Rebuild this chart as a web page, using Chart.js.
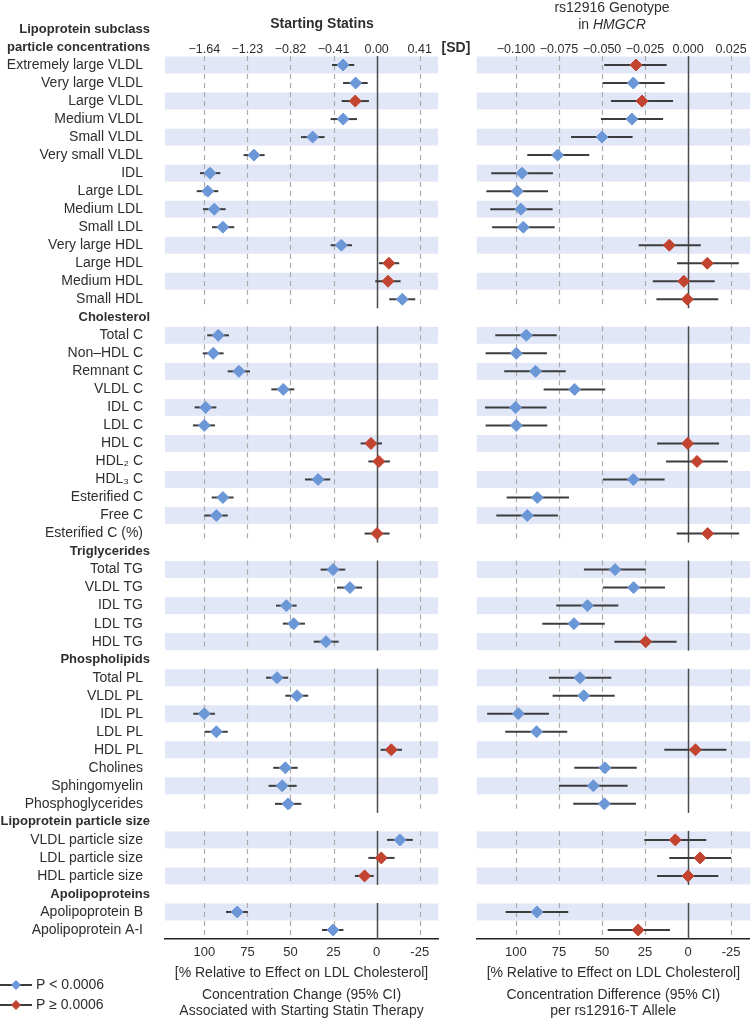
<!DOCTYPE html>
<html lang="en">
<head>
<meta charset="UTF-8">
<title>Statins vs rs12916 in HMGCR</title>
<script src="https://cdn.jsdelivr.net/npm/chart.js"></script>
<style>
  body { margin: 0; background: #fff; }
  .wrap { position: relative; width: 750px; height: 1021px; overflow: hidden; }
  #statinChart { position: absolute; left: 0; top: 0; }
  #geneChart { position: absolute; left: 460px; top: 0; }
</style>
</head>
<body>
<div class="wrap">
  <canvas id="statinChart" width="475" height="1021"></canvas>
  <canvas id="geneChart" width="290" height="1021"></canvas>
</div>
<script>
// ---- data (values in % relative to the effect on LDL cholesterol) ----
const groupNames = ['Lipoprotein subclass\nparticle concentrations', 'Cholesterol', 'Triglycerides',
                    'Phospholipids', 'Lipoprotein particle size', 'Apolipoproteins'];
const subclassLabels = ['Extremely large VLDL', 'Very large VLDL', 'Large VLDL', 'Medium VLDL', 'Small VLDL',
                        'Very small VLDL', 'IDL', 'Large LDL', 'Medium LDL', 'Small LDL', 'Very large HDL',
                        'Large HDL', 'Medium HDL', 'Small HDL'];
const cholesterolLabels = ['Total C', 'Non\u2013HDL C', 'Remnant C', 'VLDL C', 'IDL C', 'LDL C', 'HDL C',
                           'HDL\u2082 C', 'HDL\u2083 C', 'Esterified C', 'Free C', 'Esterified C (%)'];
const triglycerideLabels = ['Total TG', 'VLDL TG', 'IDL TG', 'LDL TG', 'HDL TG'];
const phospholipidLabels = ['Total PL', 'VLDL PL', 'IDL PL', 'LDL PL', 'HDL PL', 'Cholines',
                            'Sphingomyelin', 'Phosphoglycerides'];
const sizeLabels = ['VLDL particle size', 'LDL particle size', 'HDL particle size'];
const apoLabels = ['Apolipoprotein B', 'Apolipoprotein A\u2011I'];

const statinEst = [19.5, 12.2, 12.4, 19.4, 37.1, 71.2, 96.7, 98, 94.2, 89.2, 20.5, -7.1, -6.6, -14.9,
                   91.9, 94.8, 79.9, 54.2, 99.2, 100, 3.3, -1.3, 34, 89.2, 93, -0.2,
                   25.3, 15.5, 52.4, 48.1, 29.4,
                   57.8, 46.2, 100, 93, -8.5, 53, 54.8, 51.4,
                   -13.5, -2.7, 7,
                   80.9, 25.3];
const statinLo = [13, 5.2, 4.5, 11.4, 30.2, 65, 90.7, 91.9, 87.6, 82.6, 14.3, -13.1, -13.9, -22.4,
                  85.7, 88.8, 73.5, 47.8, 93, 93.8, -3.1, -7.7, 26.9, 83, 86.4, -7.5,
                  18.2, 8.4, 46.4, 41.6, 22,
                  51.3, 39.7, 93.8, 86.4, -14.7, 45.8, 46.4, 43.7,
                  -21, -10.4, 1.7,
                  74.7, 19.3];
const statinHi = [25.9, 19.5, 20.3, 26.7, 43.9, 77.2, 102.5, 104.4, 100.8, 95.5, 26.7, -1.3, 0.8, -7.3,
                  98.3, 100.9, 86.4, 61.1, 105.6, 106.6, 9.3, 4.8, 41.6, 95.7, 100, 7,
                  32.5, 23, 58.4, 54.4, 36.5,
                  64.2, 53, 106.4, 99.8, -2.3, 60, 62.7, 59,
                  -6, 4.8, 12.6,
                  87.4, 31.7];
// 1 = P < 0.0006, 0 = P >= 0.0006
const statinSig = [1, 1, 0, 1, 1, 1, 1, 1, 1, 1, 1, 0, 0, 1,
                   1, 1, 1, 1, 1, 1, 0, 0, 1, 1, 1, 0,
                   1, 1, 1, 1, 1,
                   1, 1, 1, 1, 0, 1, 1, 1,
                   1, 0, 0,
                   1, 1];

const geneEst = [30.2, 31.8, 26.7, 32.6, 50, 75.8, 96.5, 99.2, 97.1, 95.7, 10.9, -11.2, 2.5, 0.4,
                 94, 99.8, 88.6, 65.9, 100.2, 99.8, 0.2, -5.2, 31.8, 87.6, 93.4, -11.4,
                 42.4, 31.6, 58.5, 66.3, 24.6,
                 62.8, 60.6, 98.6, 88, -4.3, 48.3, 55, 48.6,
                 7.4, -7, 0,
                 87.8, 29];
const geneLo = [12.4, 13.6, 8.7, 14.5, 32.2, 57.4, 78.5, 81.4, 78.7, 77.5, -7.4, -29.5, -15.5, -17.6,
                76.3, 82, 71.1, 48.1, 82.2, 81.8, -18, -23.1, 13.6, 69.2, 75.6, -29.7,
                24.6, 13.4, 40.5, 48.4, 6.6,
                44.6, 42.6, 80.8, 70.2, -22.3, 29.8, 35.1, 30.2,
                -10.6, -25, -17.6,
                69.6, 10.5];
const geneHi = [48.7, 49.6, 44.8, 50.6, 68, 93.4, 114.4, 117.2, 114.9, 113.8, 28.7, 6.4, 20.5, 18.4,
                112, 117.6, 106.8, 83.9, 118, 117.6, 18, 12.8, 49.4, 105.4, 111.4, 6.6,
                60.5, 49.4, 76.6, 84.7, 42.8,
                80.8, 78.7, 116.7, 106.2, 13.8, 66.1, 75, 66.7,
                25.4, 10.9, 18,
                106, 46.7];
const geneSig = [0, 1, 0, 1, 1, 1, 1, 1, 1, 1, 0, 0, 0, 0,
                 1, 1, 1, 1, 1, 1, 0, 0, 1, 1, 1, 0,
                 1, 1, 1, 1, 0,
                 1, 1, 1, 1, 0, 1, 1, 1,
                 0, 0, 0,
                 1, 0];

const pctTicks = [100, 75, 50, 25, 0, -25];
const statinSdTicks = [-1.64, -1.23, -0.82, -0.41, 0, 0.41];
const geneSdTicks = [-0.100, -0.075, -0.050, -0.025, 0, 0.025];

// ---- build the row slots (one slot per item, one per group header) ----
const groupItems = [subclassLabels, cholesterolLabels, triglycerideLabels, phospholipidLabels, sizeLabels, apoLabels];
const itemLabels = [], itemSlot = [], itemShade = [], headerSlot = [], groupRange = [];
let slot = 0;
groupItems.forEach((items, g) => {
  if (g > 0) { headerSlot.push(slot); slot++; } else { headerSlot.push(-1); }
  const first = slot;
  items.forEach((lab, k) => {
    itemLabels.push(lab); itemSlot.push(slot); itemShade.push(k % 2 === 0);
    slot++;
  });
  groupRange.push([first, slot - 1]);
});
const lastSlot = slot - 1;

const BLUE = '#6c97d7', RED = '#c2432f', INK = '#2e2e2e';
const FONT = '"Liberation Sans", Arial, sans-serif';
const TICK_FONT = { family: FONT, size: 12.5 };

const forestPlugin = {
  id: 'forest',
  beforeDatasetsDraw(chart, args, opts) {
    const { ctx, chartArea: a, scales: { x, y } } = chart;
    ctx.save();
    // bands
    ctx.fillStyle = '#e2e7f7';
    itemSlot.forEach((s, i) => {
      if (!itemShade[i]) return;
      const t = y.getPixelForValue(s - 0.47), b = y.getPixelForValue(s + 0.47);
      ctx.fillRect(a.left, t, a.right - a.left, b - t);
    });
    // grid per group
    groupRange.forEach(([f, l]) => {
      const t = y.getPixelForValue(f - 0.5), b = y.getPixelForValue(l + 0.5);
      pctTicks.forEach(v => {
        const px = Math.round(x.getPixelForValue(v)) + 0.5;
        ctx.beginPath();
        if (v === 0) { ctx.setLineDash([]); ctx.strokeStyle = '#4a4a4a'; ctx.lineWidth = 1.5; }
        else { ctx.setLineDash([5, 4]); ctx.strokeStyle = '#ababab'; ctx.lineWidth = 1.2; }
        ctx.moveTo(px, t); ctx.lineTo(px, b); ctx.stroke();
      });
    });
    ctx.setLineDash([]);
    // confidence intervals
    ctx.strokeStyle = '#3c3c3c'; ctx.lineWidth = 2;
    itemSlot.forEach((s, i) => {
      const py = y.getPixelForValue(s);
      ctx.beginPath();
      ctx.moveTo(x.getPixelForValue(opts.lo[i]), py);
      ctx.lineTo(x.getPixelForValue(opts.hi[i]), py);
      ctx.stroke();
    });
    ctx.restore();
  },
  afterDraw(chart, args, opts) {
    const { ctx, chartArea: a, scales: { y } } = chart;
    const cx = (a.left + a.right) / 2;
    ctx.save();
    ctx.fillStyle = INK;
    ctx.textBaseline = 'middle';
    if (opts.rowLabels) {
      ctx.textAlign = 'right';
      ctx.font = '14px ' + FONT;
      itemSlot.forEach((s, i) => ctx.fillText(itemLabels[i], a.left - 22, y.getPixelForValue(s)));
      ctx.font = 'bold 13px ' + FONT;
      groupNames.forEach((name, g) => {
        const lines = name.split('\n');
        const s = headerSlot[g];
        lines.forEach((ln, j) => ctx.fillText(ln, a.left - 15, y.getPixelForValue(s - (lines.length - 1 - j))));
      });
    }
    // titles
    ctx.textAlign = 'center';
    opts.title.forEach(t => {
      if (t.italic) {
        ctx.font = '14px ' + FONT;
        const w1 = ctx.measureText(t.text).width;
        ctx.font = 'italic 14px ' + FONT;
        const w2 = ctx.measureText(t.italic).width;
        const x0 = t.x - (w1 + w2) / 2;
        ctx.textAlign = 'left';
        ctx.font = '14px ' + FONT; ctx.fillText(t.text, x0, t.y);
        ctx.font = 'italic 14px ' + FONT; ctx.fillText(t.italic, x0 + w1, t.y);
        ctx.textAlign = 'center';
      } else {
        ctx.font = (t.bold ? 'bold ' : '') + '14px ' + FONT;
        ctx.fillText(t.text, t.x, t.y);
      }
    });
    // bottom captions
    ctx.font = '14px ' + FONT;
    ctx.fillText('[% Relative to Effect on LDL Cholesterol]', cx, 973);
    opts.caption.forEach((c, j) => ctx.fillText(c, cx, 995.5 + 16 * j));
    // legend
    if (opts.legend) {
      [[BLUE, 'P < 0.0006', 985], [RED, 'P \u2265 0.0006', 1005]].forEach(([col, txt, ly]) => {
        ctx.strokeStyle = '#3c3c3c'; ctx.lineWidth = 2;
        ctx.beginPath(); ctx.moveTo(0, ly); ctx.lineTo(32, ly); ctx.stroke();
        ctx.fillStyle = col;
        ctx.beginPath();
        ctx.moveTo(16, ly - 5); ctx.lineTo(21, ly); ctx.lineTo(16, ly + 5); ctx.lineTo(11, ly);
        ctx.closePath(); ctx.fill();
        ctx.fillStyle = INK; ctx.textAlign = 'left';
        ctx.fillText(txt, 36, ly);
      });
    }
    ctx.restore();
  }
};

function fixHeight(h) {
  return ax => { ax.height = h; ax.paddingLeft = 0; ax.paddingRight = 0; };
}

function makeChart(id, est, lo, hi, sig, sdTicks, sdFactor, sdDigits, pad, xMin, extra) {
  const pts = est.map((v, i) => ({ x: v, y: itemSlot[i] }));
  const cols = sig.map(s => s ? BLUE : RED);
  const xMax = 122.8;
  return new Chart(document.getElementById(id), {
    type: 'scatter',
    data: { datasets: [{ data: pts, pointStyle: 'rectRot', pointRadius: 6, pointHoverRadius: 6,
                          pointBackgroundColor: cols, pointBorderColor: cols, pointBorderWidth: 1 }] },
    options: {
      responsive: false,
      animation: false,
      events: [],
      layout: { autoPadding: false, padding: { left: pad[0], right: pad[1], top: 0, bottom: 0 } },
      scales: {
        x: {
          type: 'linear', position: 'bottom', reverse: true, min: xMin, max: xMax,
          afterBuildTicks: ax => { ax.ticks = pctTicks.map(v => ({ value: v })); },
          afterFit: fixHeight(82),
          grid: { display: false, drawTicks: false },
          border: { display: true, color: '#222', width: 1.5 },
          ticks: { color: INK, font: { family: FONT, size: 13 }, padding: 6, maxRotation: 0,
                   callback: v => String(v) }
        },
        x2: {
          type: 'linear', position: 'top', min: -xMax * sdFactor, max: -xMin * sdFactor,
          afterBuildTicks: ax => { ax.ticks = sdTicks.map(v => ({ value: v })); },
          afterFit: fixHeight(56),
          grid: { display: false, drawTicks: false },
          border: { display: false },
          ticks: { color: INK, font: TICK_FONT, padding: -1, maxRotation: 0,
                   callback: v => (v < 0 ? '\u2212' : '') + Math.abs(v).toFixed(sdDigits) }
        },
        y: { type: 'linear', reverse: true, min: -0.5, max: lastSlot + 0.5, display: false }
      },
      plugins: {
        legend: { display: false },
        tooltip: { enabled: false },
        forest: Object.assign({ lo, hi }, extra)
      }
    },
    plugins: [forestPlugin]
  });
}

makeChart('statinChart', statinEst, statinLo, statinHi, statinSig, statinSdTicks, 0.0164, 2, [165, 37], -35.6, {
  rowLabels: true, legend: true,
  title: [{ text: 'Starting Statins', x: 322, y: 24, bold: true }, { text: '[SD]', x: 456, y: 48, bold: true }],
  caption: ['Concentration Change (95% CI)', 'Associated with Starting Statin Therapy']
});
makeChart('geneChart', geneEst, geneLo, geneHi, geneSig, geneSdTicks, 0.001, 3, [16.7, 0], -36, {
  rowLabels: false, legend: false,
  title: [{ text: 'rs12916 Genotype', x: 152, y: 8, bold: false }, { text: 'in ', italic: 'HMGCR', x: 152, y: 25 }],
  caption: ['Concentration Difference (95% CI)', 'per rs12916-T Allele']
});
</script>
</body>
</html>
